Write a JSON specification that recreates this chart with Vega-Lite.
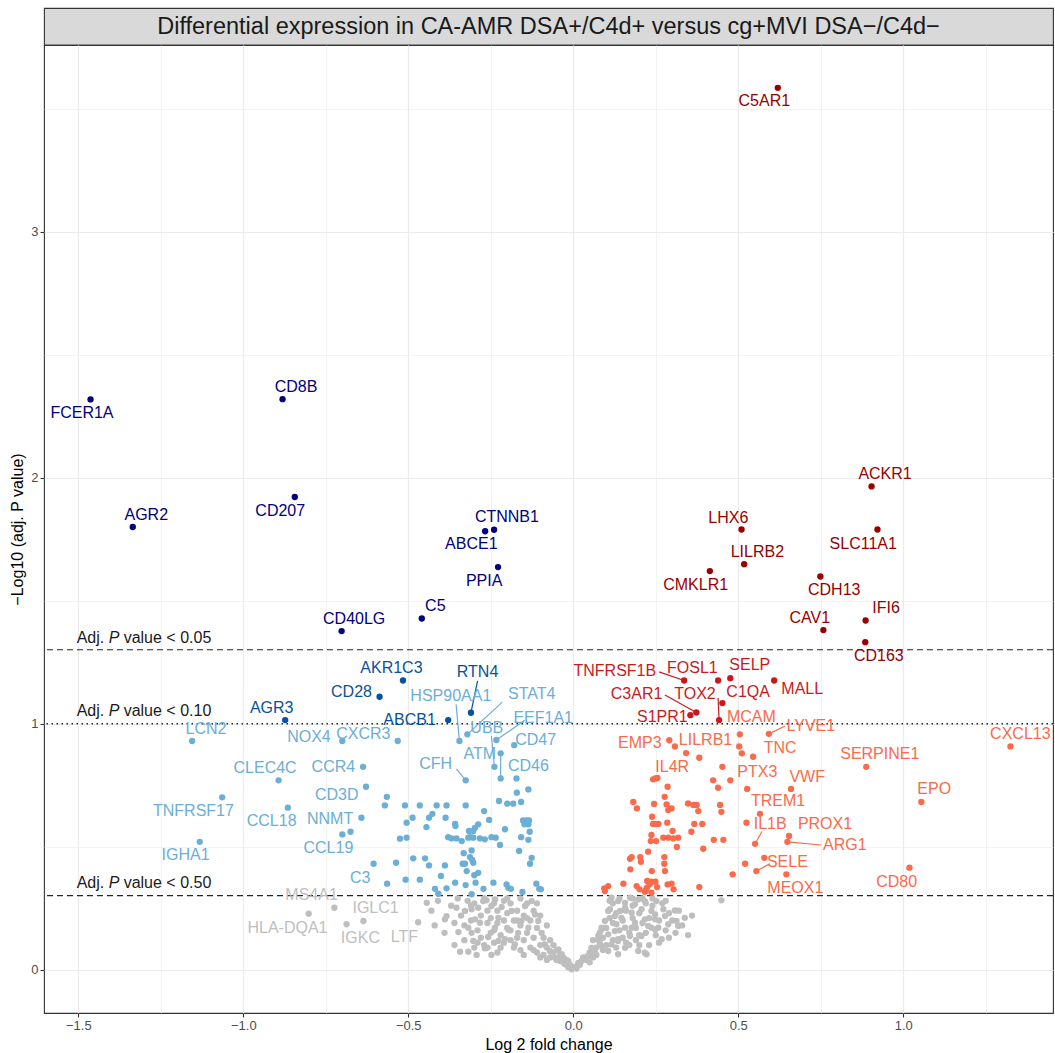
{
"$schema": "https://vega.github.io/schema/vega-lite/v6.json",
"background": "white",
"padding": {"left": 9, "top": 7, "right": 0, "bottom": 0},
"bounds": "flush",
"spacing": 0,
"config": {"font": "Liberation Sans", "view": {"stroke": "#333333", "strokeWidth": 1.1}},
"datasets": {
"genes": [
{"lfc":-0.444,"nlp":0.272,"sig":"ns"},{"lfc":-0.389,"nlp":0.205,"sig":"ns"},{"lfc":-0.384,"nlp":0.218,"sig":"ns"},{"lfc":-0.354,"nlp":0.252,"sig":"ns"},{"lfc":-0.348,"nlp":0.153,"sig":"ns"},{"lfc":-0.343,"nlp":0.073,"sig":"ns"},{"lfc":-0.318,"nlp":0.073,"sig":"ns"},{"lfc":-0.293,"nlp":0.060,"sig":"ns"},{"lfc":-0.328,"nlp":0.239,"sig":"ns"},{"lfc":-0.308,"nlp":0.246,"sig":"ns"},{"lfc":-0.318,"nlp":0.171,"sig":"ns"},{"lfc":-0.308,"nlp":0.150,"sig":"ns"},{"lfc":-0.303,"nlp":0.117,"sig":"ns"},{"lfc":-0.298,"nlp":0.205,"sig":"ns"},{"lfc":-0.283,"nlp":0.191,"sig":"ns"},{"lfc":-0.288,"nlp":0.252,"sig":"ns"},{"lfc":-0.273,"nlp":0.279,"sig":"ns"},{"lfc":-0.263,"nlp":0.282,"sig":"ns"},{"lfc":-0.268,"nlp":0.087,"sig":"ns"},{"lfc":-0.248,"nlp":0.060,"sig":"ns"},{"lfc":-0.258,"nlp":0.133,"sig":"ns"},{"lfc":-0.248,"nlp":0.259,"sig":"ns"},{"lfc":-0.237,"nlp":0.286,"sig":"ns"},{"lfc":-0.227,"nlp":0.211,"sig":"ns"},{"lfc":-0.217,"nlp":0.255,"sig":"ns"},{"lfc":-0.237,"nlp":0.171,"sig":"ns"},{"lfc":-0.227,"nlp":0.117,"sig":"ns"},{"lfc":-0.207,"nlp":0.124,"sig":"ns"},{"lfc":-0.197,"nlp":0.164,"sig":"ns"},{"lfc":-0.187,"nlp":0.239,"sig":"ns"},{"lfc":-0.177,"nlp":0.103,"sig":"ns"},{"lfc":-0.167,"nlp":0.150,"sig":"ns"},{"lfc":-0.157,"nlp":0.198,"sig":"ns"},{"lfc":-0.146,"nlp":0.259,"sig":"ns"},{"lfc":-0.136,"nlp":0.171,"sig":"ns"},{"lfc":-0.126,"nlp":0.279,"sig":"ns"},{"lfc":-0.116,"nlp":0.225,"sig":"ns"},{"lfc":-0.106,"nlp":0.198,"sig":"ns"},{"lfc":-0.096,"nlp":0.150,"sig":"ns"},{"lfc":-0.086,"nlp":0.103,"sig":"ns"},{"lfc":-0.071,"nlp":0.076,"sig":"ns"},{"lfc":-0.055,"nlp":0.049,"sig":"ns"},{"lfc":-0.040,"nlp":0.035,"sig":"ns"},{"lfc":-0.025,"nlp":0.022,"sig":"ns"},{"lfc":-0.005,"nlp":0.002,"sig":"ns"},
{"lfc":-0.43,"nlp":0.24,"sig":"ns"},{"lfc":-0.41,"nlp":0.28,"sig":"ns"},{"lfc":-0.37,"nlp":0.26,"sig":"ns"},{"lfc":-0.36,"nlp":0.19,"sig":"ns"},{"lfc":-0.34,"nlp":0.22,"sig":"ns"},{"lfc":-0.33,"nlp":0.12,"sig":"ns"},{"lfc":-0.32,"nlp":0.28,"sig":"ns"},{"lfc":-0.31,"nlp":0.2,"sig":"ns"},{"lfc":-0.30,"nlp":0.27,"sig":"ns"},{"lfc":-0.29,"nlp":0.16,"sig":"ns"},{"lfc":-0.28,"nlp":0.22,"sig":"ns"},{"lfc":-0.28,"nlp":0.13,"sig":"ns"},{"lfc":-0.27,"nlp":0.1,"sig":"ns"},{"lfc":-0.26,"nlp":0.19,"sig":"ns"},{"lfc":-0.26,"nlp":0.24,"sig":"ns"},{"lfc":-0.25,"nlp":0.15,"sig":"ns"},{"lfc":-0.25,"nlp":0.21,"sig":"ns"},{"lfc":-0.24,"nlp":0.11,"sig":"ns"},{"lfc":-0.24,"nlp":0.27,"sig":"ns"},{"lfc":-0.23,"nlp":0.19,"sig":"ns"},{"lfc":-0.23,"nlp":0.24,"sig":"ns"},{"lfc":-0.22,"nlp":0.14,"sig":"ns"},{"lfc":-0.22,"nlp":0.09,"sig":"ns"},{"lfc":-0.21,"nlp":0.2,"sig":"ns"},{"lfc":-0.21,"nlp":0.28,"sig":"ns"},{"lfc":-0.2,"nlp":0.17,"sig":"ns"},{"lfc":-0.2,"nlp":0.23,"sig":"ns"},{"lfc":-0.19,"nlp":0.12,"sig":"ns"},{"lfc":-0.19,"nlp":0.27,"sig":"ns"},{"lfc":-0.18,"nlp":0.2,"sig":"ns"},{"lfc":-0.18,"nlp":0.09,"sig":"ns"},{"lfc":-0.17,"nlp":0.24,"sig":"ns"},{"lfc":-0.17,"nlp":0.13,"sig":"ns"},{"lfc":-0.16,"nlp":0.18,"sig":"ns"},{"lfc":-0.16,"nlp":0.08,"sig":"ns"},{"lfc":-0.15,"nlp":0.22,"sig":"ns"},{"lfc":-0.15,"nlp":0.12,"sig":"ns"},{"lfc":-0.14,"nlp":0.27,"sig":"ns"},{"lfc":-0.14,"nlp":0.15,"sig":"ns"},{"lfc":-0.13,"nlp":0.09,"sig":"ns"},{"lfc":-0.13,"nlp":0.2,"sig":"ns"},{"lfc":-0.12,"nlp":0.24,"sig":"ns"},{"lfc":-0.12,"nlp":0.13,"sig":"ns"},{"lfc":-0.11,"nlp":0.07,"sig":"ns"},{"lfc":-0.11,"nlp":0.17,"sig":"ns"},{"lfc":-0.1,"nlp":0.1,"sig":"ns"},{"lfc":-0.1,"nlp":0.22,"sig":"ns"},{"lfc":-0.09,"nlp":0.06,"sig":"ns"},{"lfc":-0.09,"nlp":0.13,"sig":"ns"},{"lfc":-0.08,"nlp":0.09,"sig":"ns"},{"lfc":-0.08,"nlp":0.18,"sig":"ns"},{"lfc":-0.07,"nlp":0.05,"sig":"ns"},{"lfc":-0.07,"nlp":0.12,"sig":"ns"},{"lfc":-0.06,"nlp":0.07,"sig":"ns"},{"lfc":-0.06,"nlp":0.1,"sig":"ns"},{"lfc":-0.05,"nlp":0.04,"sig":"ns"},{"lfc":-0.05,"nlp":0.08,"sig":"ns"},{"lfc":-0.04,"nlp":0.06,"sig":"ns"},{"lfc":-0.03,"nlp":0.03,"sig":"ns"},{"lfc":-0.03,"nlp":0.05,"sig":"ns"},{"lfc":-0.02,"nlp":0.04,"sig":"ns"},{"lfc":-0.015,"nlp":0.01,"sig":"ns"},{"lfc":-0.01,"nlp":0.02,"sig":"ns"},{"lfc":-0.35,"nlp":0.29,"sig":"ns"},{"lfc":-0.27,"nlp":0.29,"sig":"ns"},{"lfc":-0.2,"nlp":0.29,"sig":"ns"},{"lfc":-0.16,"nlp":0.29,"sig":"ns"},{"lfc":-0.11,"nlp":0.27,"sig":"ns"},{"lfc":-0.36,"nlp":0.1,"sig":"ns"},{"lfc":-0.39,"nlp":0.15,"sig":"ns"},{"lfc":-0.42,"nlp":0.18,"sig":"ns"},{"lfc":-0.3,"nlp":0.09,"sig":"ns"},{"lfc":-0.23,"nlp":0.07,"sig":"ns"},{"lfc":-0.12,"nlp":0.08,"sig":"ns"},{"lfc":-0.29,"nlp":0.11,"sig":"ns"},{"lfc":-0.24,"nlp":0.16,"sig":"ns"},{"lfc":-0.17,"nlp":0.2,"sig":"ns"},{"lfc":-0.14,"nlp":0.21,"sig":"ns"},{"lfc":-0.19,"nlp":0.16,"sig":"ns"},{"lfc":-0.21,"nlp":0.11,"sig":"ns"},{"lfc":-0.26,"nlp":0.09,"sig":"ns"},{"lfc":-0.33,"nlp":0.18,"sig":"ns"},{"lfc":-0.31,"nlp":0.26,"sig":"ns"},{"lfc":-0.15,"nlp":0.06,"sig":"ns"},{"lfc":-0.08,"nlp":0.04,"sig":"ns"},{"lfc":-0.1,"nlp":0.05,"sig":"ns"},
{"lfc":0.005,"nlp":0.011,"sig":"ns"},{"lfc":0.025,"nlp":0.035,"sig":"ns"},{"lfc":0.045,"nlp":0.056,"sig":"ns"},{"lfc":0.055,"nlp":0.089,"sig":"ns"},{"lfc":0.076,"nlp":0.124,"sig":"ns"},{"lfc":0.086,"nlp":0.171,"sig":"ns"},{"lfc":0.096,"nlp":0.198,"sig":"ns"},{"lfc":0.106,"nlp":0.239,"sig":"ns"},{"lfc":0.116,"nlp":0.293,"sig":"ns"},{"lfc":0.126,"nlp":0.157,"sig":"ns"},{"lfc":0.136,"nlp":0.117,"sig":"ns"},{"lfc":0.146,"nlp":0.211,"sig":"ns"},{"lfc":0.157,"nlp":0.252,"sig":"ns"},{"lfc":0.177,"nlp":0.171,"sig":"ns"},{"lfc":0.197,"nlp":0.076,"sig":"ns"},{"lfc":0.217,"nlp":0.069,"sig":"ns"},{"lfc":0.237,"nlp":0.171,"sig":"ns"},{"lfc":0.248,"nlp":0.225,"sig":"ns"},{"lfc":0.172,"nlp":0.293,"sig":"ns"},{"lfc":0.197,"nlp":0.286,"sig":"ns"},{"lfc":0.252,"nlp":0.279,"sig":"ns"},{"lfc":0.111,"nlp":0.246,"sig":"ns"},{"lfc":0.142,"nlp":0.239,"sig":"ns"},{"lfc":0.177,"nlp":0.232,"sig":"ns"},{"lfc":0.207,"nlp":0.246,"sig":"ns"},{"lfc":0.237,"nlp":0.239,"sig":"ns"},{"lfc":0.273,"nlp":0.246,"sig":"ns"},{"lfc":0.308,"nlp":0.241,"sig":"ns"},{"lfc":0.338,"nlp":0.211,"sig":"ns"},{"lfc":0.313,"nlp":0.198,"sig":"ns"},{"lfc":0.288,"nlp":0.185,"sig":"ns"},{"lfc":0.258,"nlp":0.171,"sig":"ns"},{"lfc":0.227,"nlp":0.178,"sig":"ns"},{"lfc":0.187,"nlp":0.191,"sig":"ns"},{"lfc":0.157,"nlp":0.171,"sig":"ns"},{"lfc":0.131,"nlp":0.185,"sig":"ns"},{"lfc":0.086,"nlp":0.164,"sig":"ns"},{"lfc":0.076,"nlp":0.137,"sig":"ns"},{"lfc":0.106,"nlp":0.144,"sig":"ns"},{"lfc":0.136,"nlp":0.124,"sig":"ns"},{"lfc":0.172,"nlp":0.137,"sig":"ns"},{"lfc":0.207,"nlp":0.137,"sig":"ns"},{"lfc":0.248,"nlp":0.164,"sig":"ns"},{"lfc":0.268,"nlp":0.124,"sig":"ns"},{"lfc":0.318,"nlp":0.178,"sig":"ns"},{"lfc":0.348,"nlp":0.141,"sig":"ns"},{"lfc":0.449,"nlp":0.282,"sig":"ns"},{"lfc":0.086,"nlp":0.096,"sig":"ns"},{"lfc":0.116,"nlp":0.103,"sig":"ns"},{"lfc":0.157,"nlp":0.089,"sig":"ns"},{"lfc":0.222,"nlp":0.063,"sig":"ns"},{"lfc":0.066,"nlp":0.069,"sig":"ns"},{"lfc":0.035,"nlp":0.049,"sig":"ns"},{"lfc":0.015,"nlp":0.028,"sig":"ns"},{"lfc":-0.015,"nlp":0.035,"sig":"ns"},{"lfc":-0.035,"nlp":0.063,"sig":"ns"},{"lfc":-0.045,"nlp":0.083,"sig":"ns"},{"lfc":0.106,"nlp":0.076,"sig":"ns"},{"lfc":0.136,"nlp":0.063,"sig":"ns"},{"lfc":0.126,"nlp":0.218,"sig":"ns"},{"lfc":0.217,"nlp":0.205,"sig":"ns"},{"lfc":0.248,"nlp":0.205,"sig":"ns"},{"lfc":0.278,"nlp":0.218,"sig":"ns"},{"lfc":0.187,"nlp":0.266,"sig":"ns"},{"lfc":0.217,"nlp":0.279,"sig":"ns"},{"lfc":0.157,"nlp":0.272,"sig":"ns"},{"lfc":0.136,"nlp":0.279,"sig":"ns"},
{"lfc":0.02,"nlp":0.02,"sig":"ns"},{"lfc":0.03,"nlp":0.05,"sig":"ns"},{"lfc":0.04,"nlp":0.04,"sig":"ns"},{"lfc":0.05,"nlp":0.07,"sig":"ns"},{"lfc":0.06,"nlp":0.05,"sig":"ns"},{"lfc":0.07,"nlp":0.09,"sig":"ns"},{"lfc":0.08,"nlp":0.11,"sig":"ns"},{"lfc":0.09,"nlp":0.08,"sig":"ns"},{"lfc":0.09,"nlp":0.13,"sig":"ns"},{"lfc":0.1,"nlp":0.17,"sig":"ns"},{"lfc":0.1,"nlp":0.1,"sig":"ns"},{"lfc":0.11,"nlp":0.21,"sig":"ns"},{"lfc":0.12,"nlp":0.12,"sig":"ns"},{"lfc":0.12,"nlp":0.27,"sig":"ns"},{"lfc":0.13,"nlp":0.09,"sig":"ns"},{"lfc":0.13,"nlp":0.23,"sig":"ns"},{"lfc":0.14,"nlp":0.16,"sig":"ns"},{"lfc":0.15,"nlp":0.13,"sig":"ns"},{"lfc":0.15,"nlp":0.2,"sig":"ns"},{"lfc":0.16,"nlp":0.24,"sig":"ns"},{"lfc":0.16,"nlp":0.11,"sig":"ns"},{"lfc":0.17,"nlp":0.15,"sig":"ns"},{"lfc":0.18,"nlp":0.21,"sig":"ns"},{"lfc":0.18,"nlp":0.26,"sig":"ns"},{"lfc":0.19,"nlp":0.12,"sig":"ns"},{"lfc":0.19,"nlp":0.17,"sig":"ns"},{"lfc":0.2,"nlp":0.23,"sig":"ns"},{"lfc":0.2,"nlp":0.1,"sig":"ns"},{"lfc":0.21,"nlp":0.19,"sig":"ns"},{"lfc":0.22,"nlp":0.27,"sig":"ns"},{"lfc":0.22,"nlp":0.15,"sig":"ns"},{"lfc":0.23,"nlp":0.21,"sig":"ns"},{"lfc":0.23,"nlp":0.1,"sig":"ns"},{"lfc":0.24,"nlp":0.26,"sig":"ns"},{"lfc":0.25,"nlp":0.14,"sig":"ns"},{"lfc":0.26,"nlp":0.2,"sig":"ns"},{"lfc":0.27,"nlp":0.27,"sig":"ns"},{"lfc":0.28,"nlp":0.16,"sig":"ns"},{"lfc":0.29,"nlp":0.23,"sig":"ns"},{"lfc":0.3,"nlp":0.2,"sig":"ns"},{"lfc":0.31,"nlp":0.15,"sig":"ns"},{"lfc":0.32,"nlp":0.24,"sig":"ns"},{"lfc":0.33,"nlp":0.18,"sig":"ns"},{"lfc":0.36,"nlp":0.22,"sig":"ns"},{"lfc":0.06,"nlp":0.12,"sig":"ns"},{"lfc":0.08,"nlp":0.15,"sig":"ns"},{"lfc":0.11,"nlp":0.28,"sig":"ns"},{"lfc":0.14,"nlp":0.29,"sig":"ns"},{"lfc":0.18,"nlp":0.29,"sig":"ns"},{"lfc":0.21,"nlp":0.29,"sig":"ns"},{"lfc":0.24,"nlp":0.29,"sig":"ns"},{"lfc":0.28,"nlp":0.28,"sig":"ns"},{"lfc":0.12,"nlp":0.19,"sig":"ns"},{"lfc":0.17,"nlp":0.1,"sig":"ns"},{"lfc":0.2,"nlp":0.14,"sig":"ns"},{"lfc":0.26,"nlp":0.11,"sig":"ns"},{"lfc":0.29,"nlp":0.13,"sig":"ns"},{"lfc":0.05,"nlp":0.03,"sig":"ns"},{"lfc":0.07,"nlp":0.06,"sig":"ns"},{"lfc":0.01,"nlp":0.005,"sig":"ns"},
{"gene":"MS4A1","lfc":-0.724,"nlp":0.252,"sig":"ns","label_x":-0.793,"label_y":0.304},
{"gene":"HLA-DQA1","lfc":-0.802,"nlp":0.228,"sig":"ns","label_x":-0.866,"label_y":0.171},
{"gene":"IGLC1","lfc":-0.636,"nlp":0.198,"sig":"ns","label_x":-0.599,"label_y":0.250},
{"gene":"IGKC","lfc":-0.687,"nlp":0.185,"sig":"ns","label_x":-0.645,"label_y":0.128},
{"gene":"LTF","lfc":-0.470,"nlp":0.193,"sig":"ns","label_x":-0.512,"label_y":0.133},
{"lfc":-0.565,"nlp":0.703,"sig":"down_p050"},{"lfc":-0.571,"nlp":0.668,"sig":"down_p050"},{"lfc":-0.510,"nlp":0.668,"sig":"down_p050"},{"lfc":-0.465,"nlp":0.668,"sig":"down_p050"},{"lfc":-0.414,"nlp":0.668,"sig":"down_p050"},{"lfc":-0.384,"nlp":0.668,"sig":"down_p050"},{"lfc":-0.326,"nlp":0.668,"sig":"down_p050"},{"lfc":-0.171,"nlp":0.720,"sig":"down_p050"},{"lfc":-0.136,"nlp":0.733,"sig":"down_p050"},{"lfc":-0.225,"nlp":0.686,"sig":"down_p050"},{"lfc":-0.200,"nlp":0.675,"sig":"down_p050"},{"lfc":-0.182,"nlp":0.675,"sig":"down_p050"},{"lfc":-0.158,"nlp":0.682,"sig":"down_p050"},{"lfc":-0.270,"nlp":0.645,"sig":"down_p050"},{"lfc":-0.427,"nlp":0.634,"sig":"down_p050"},{"lfc":-0.437,"nlp":0.618,"sig":"down_p050"},{"lfc":-0.387,"nlp":0.618,"sig":"down_p050"},{"lfc":-0.487,"nlp":0.618,"sig":"down_p050"},{"lfc":-0.505,"nlp":0.598,"sig":"down_p050"},{"lfc":-0.445,"nlp":0.580,"sig":"down_p050"},{"lfc":-0.358,"nlp":0.593,"sig":"down_p050"},{"lfc":-0.357,"nlp":0.584,"sig":"down_p050"},{"lfc":-0.255,"nlp":0.609,"sig":"down_p050"},{"lfc":-0.288,"nlp":0.591,"sig":"down_p050"},{"lfc":-0.298,"nlp":0.577,"sig":"down_p050"},{"lfc":-0.303,"nlp":0.564,"sig":"down_p050"},{"lfc":-0.316,"nlp":0.564,"sig":"down_p050"},{"lfc":-0.312,"nlp":0.539,"sig":"down_p050"},{"lfc":-0.207,"nlp":0.571,"sig":"down_p050"},{"lfc":-0.152,"nlp":0.607,"sig":"down_p050"},{"lfc":-0.142,"nlp":0.607,"sig":"down_p050"},{"lfc":-0.134,"nlp":0.607,"sig":"down_p050"},{"lfc":-0.148,"nlp":0.591,"sig":"down_p050"},{"lfc":-0.136,"nlp":0.591,"sig":"down_p050"},{"lfc":-0.132,"nlp":0.561,"sig":"down_p050"},{"lfc":-0.158,"nlp":0.539,"sig":"down_p050"},{"lfc":-0.136,"nlp":0.528,"sig":"down_p050"},{"lfc":-0.525,"nlp":0.533,"sig":"down_p050"},{"lfc":-0.505,"nlp":0.537,"sig":"down_p050"},{"lfc":-0.379,"nlp":0.539,"sig":"down_p050"},{"lfc":-0.369,"nlp":0.534,"sig":"down_p050"},{"lfc":-0.354,"nlp":0.534,"sig":"down_p050"},{"lfc":-0.338,"nlp":0.523,"sig":"down_p050"},{"lfc":-0.318,"nlp":0.537,"sig":"down_p050"},{"lfc":-0.303,"nlp":0.537,"sig":"down_p050"},{"lfc":-0.283,"nlp":0.534,"sig":"down_p050"},{"lfc":-0.268,"nlp":0.530,"sig":"down_p050"},{"lfc":-0.248,"nlp":0.539,"sig":"down_p050"},{"lfc":-0.235,"nlp":0.537,"sig":"down_p050"},{"lfc":-0.222,"nlp":0.507,"sig":"down_p050"},{"lfc":-0.308,"nlp":0.485,"sig":"down_p050"},{"lfc":-0.332,"nlp":0.474,"sig":"down_p050"},{"lfc":-0.164,"nlp":0.483,"sig":"down_p050"},{"lfc":-0.313,"nlp":0.458,"sig":"down_p050"},{"lfc":-0.306,"nlp":0.446,"sig":"down_p050"},{"lfc":-0.303,"nlp":0.435,"sig":"down_p050"},{"lfc":-0.485,"nlp":0.453,"sig":"down_p050"},{"lfc":-0.449,"nlp":0.453,"sig":"down_p050"},{"lfc":-0.437,"nlp":0.424,"sig":"down_p050"},{"lfc":-0.389,"nlp":0.424,"sig":"down_p050"},{"lfc":-0.335,"nlp":0.431,"sig":"down_p050"},{"lfc":-0.328,"nlp":0.431,"sig":"down_p050"},{"lfc":-0.126,"nlp":0.455,"sig":"down_p050"},{"lfc":-0.131,"nlp":0.431,"sig":"down_p050"},{"lfc":-0.537,"nlp":0.435,"sig":"down_p050"},{"lfc":-0.323,"nlp":0.401,"sig":"down_p050"},{"lfc":-0.288,"nlp":0.394,"sig":"down_p050"},{"lfc":-0.300,"nlp":0.384,"sig":"down_p050"},{"lfc":-0.401,"nlp":0.381,"sig":"down_p050"},{"lfc":-0.508,"nlp":0.366,"sig":"down_p050"},{"lfc":-0.465,"nlp":0.366,"sig":"down_p050"},{"lfc":-0.358,"nlp":0.354,"sig":"down_p050"},{"lfc":-0.326,"nlp":0.344,"sig":"down_p050"},{"lfc":-0.296,"nlp":0.354,"sig":"down_p050"},{"lfc":-0.272,"nlp":0.329,"sig":"down_p050"},{"lfc":-0.242,"nlp":0.354,"sig":"down_p050"},{"lfc":-0.419,"nlp":0.329,"sig":"down_p050"},{"lfc":-0.409,"nlp":0.309,"sig":"down_p050"},{"lfc":-0.384,"nlp":0.331,"sig":"down_p050"},{"lfc":-0.202,"nlp":0.347,"sig":"down_p050"},{"lfc":-0.197,"nlp":0.333,"sig":"down_p050"},{"lfc":-0.189,"nlp":0.329,"sig":"down_p050"},{"lfc":-0.154,"nlp":0.316,"sig":"down_p050"},{"lfc":-0.112,"nlp":0.350,"sig":"down_p050"},{"lfc":-0.103,"nlp":0.329,"sig":"down_p050"},{"lfc":-0.098,"nlp":0.327,"sig":"down_p050"},{"lfc":-0.564,"nlp":0.350,"sig":"down_p050"},{"lfc":-0.308,"nlp":0.307,"sig":"down_p050"},{"lfc":-0.675,"nlp":0.561,"sig":"down_p050"},{"lfc":-0.220,"nlp":0.880,"sig":"down_p050"},
{"lfc":0.503,"nlp":0.908,"sig":"up_p050"},{"lfc":0.511,"nlp":0.880,"sig":"up_p050"},{"lfc":0.342,"nlp":0.881,"sig":"up_p050"},{"lfc":0.382,"nlp":0.862,"sig":"up_p050"},{"lfc":0.476,"nlp":0.770,"sig":"up_p050"},{"lfc":0.424,"nlp":0.770,"sig":"up_p050"},{"lfc":0.439,"nlp":0.740,"sig":"up_p050"},{"lfc":0.527,"nlp":0.735,"sig":"up_p050"},{"lfc":0.242,"nlp":0.774,"sig":"up_p050"},{"lfc":0.255,"nlp":0.780,"sig":"up_p050"},{"lfc":0.286,"nlp":0.744,"sig":"up_p050"},{"lfc":0.277,"nlp":0.703,"sig":"up_p050"},{"lfc":0.182,"nlp":0.682,"sig":"up_p050"},{"lfc":0.193,"nlp":0.656,"sig":"up_p050"},{"lfc":0.245,"nlp":0.674,"sig":"up_p050"},{"lfc":0.283,"nlp":0.672,"sig":"up_p050"},{"lfc":0.288,"nlp":0.649,"sig":"up_p050"},{"lfc":0.298,"nlp":0.656,"sig":"up_p050"},{"lfc":0.348,"nlp":0.676,"sig":"up_p050"},{"lfc":0.364,"nlp":0.670,"sig":"up_p050"},{"lfc":0.374,"nlp":0.670,"sig":"up_p050"},{"lfc":0.379,"nlp":0.645,"sig":"up_p050"},{"lfc":0.445,"nlp":0.670,"sig":"up_p050"},{"lfc":0.449,"nlp":0.642,"sig":"up_p050"},{"lfc":0.239,"nlp":0.622,"sig":"up_p050"},{"lfc":0.242,"nlp":0.593,"sig":"up_p050"},{"lfc":0.285,"nlp":0.598,"sig":"up_p050"},{"lfc":0.258,"nlp":0.593,"sig":"up_p050"},{"lfc":0.249,"nlp":0.593,"sig":"up_p050"},{"lfc":0.367,"nlp":0.593,"sig":"up_p050"},{"lfc":0.391,"nlp":0.593,"sig":"up_p050"},{"lfc":0.358,"nlp":0.561,"sig":"up_p050"},{"lfc":0.525,"nlp":0.598,"sig":"up_p050"},{"lfc":0.237,"nlp":0.548,"sig":"up_p050"},{"lfc":0.251,"nlp":0.523,"sig":"up_p050"},{"lfc":0.235,"nlp":0.523,"sig":"up_p050"},{"lfc":0.273,"nlp":0.537,"sig":"up_p050"},{"lfc":0.288,"nlp":0.537,"sig":"up_p050"},{"lfc":0.303,"nlp":0.534,"sig":"up_p050"},{"lfc":0.301,"nlp":0.564,"sig":"up_p050"},{"lfc":0.318,"nlp":0.537,"sig":"up_p050"},{"lfc":0.426,"nlp":0.528,"sig":"up_p050"},{"lfc":0.455,"nlp":0.528,"sig":"up_p050"},{"lfc":0.314,"nlp":0.499,"sig":"up_p050"},{"lfc":0.394,"nlp":0.492,"sig":"up_p050"},{"lfc":0.227,"nlp":0.480,"sig":"up_p050"},{"lfc":0.172,"nlp":0.451,"sig":"up_p050"},{"lfc":0.177,"nlp":0.458,"sig":"up_p050"},{"lfc":0.203,"nlp":0.458,"sig":"up_p050"},{"lfc":0.205,"nlp":0.439,"sig":"up_p050"},{"lfc":0.276,"nlp":0.458,"sig":"up_p050"},{"lfc":0.276,"nlp":0.431,"sig":"up_p050"},{"lfc":0.278,"nlp":0.401,"sig":"up_p050"},{"lfc":0.579,"nlp":0.455,"sig":"up_p050"},{"lfc":0.521,"nlp":0.431,"sig":"up_p050"},{"lfc":0.483,"nlp":0.388,"sig":"up_p050"},{"lfc":0.173,"nlp":0.408,"sig":"up_p050"},{"lfc":0.238,"nlp":0.401,"sig":"up_p050"},{"lfc":0.094,"nlp":0.331,"sig":"up_p050"},{"lfc":0.106,"nlp":0.340,"sig":"up_p050"},{"lfc":0.152,"nlp":0.350,"sig":"up_p050"},{"lfc":0.224,"nlp":0.361,"sig":"up_p050"},{"lfc":0.231,"nlp":0.347,"sig":"up_p050"},{"lfc":0.249,"nlp":0.358,"sig":"up_p050"},{"lfc":0.237,"nlp":0.358,"sig":"up_p050"},{"lfc":0.254,"nlp":0.336,"sig":"up_p050"},{"lfc":0.223,"nlp":0.333,"sig":"up_p050"},{"lfc":0.220,"nlp":0.322,"sig":"up_p050"},{"lfc":0.286,"nlp":0.347,"sig":"up_p050"},{"lfc":0.298,"nlp":0.350,"sig":"up_p050"},{"lfc":0.304,"nlp":0.327,"sig":"up_p050"},{"lfc":0.382,"nlp":0.336,"sig":"up_p050"},{"lfc":0.192,"nlp":0.340,"sig":"up_p050"},{"lfc":0.201,"nlp":0.327,"sig":"up_p050"},{"lfc":0.217,"nlp":0.317,"sig":"up_p050"},{"lfc":0.237,"nlp":0.313,"sig":"up_p050"},{"lfc":0.096,"nlp":0.320,"sig":"up_p050"},
{"gene":"C5AR1","lfc":0.62,"nlp":3.586,"sig":"up_p005","label_x":0.579,"label_y":3.534},
{"gene":"ACKR1","lfc":0.904,"nlp":1.965,"sig":"up_p005","label_x":0.945,"label_y":2.014},
{"gene":"LHX6","lfc":0.510,"nlp":1.790,"sig":"up_p005","label_x":0.470,"label_y":1.837},
{"gene":"SLC11A1","lfc":0.922,"nlp":1.790,"sig":"up_p005","label_x":0.879,"label_y":1.732},
{"gene":"LILRB2","lfc":0.518,"nlp":1.649,"sig":"up_p005","label_x":0.558,"label_y":1.699},
{"gene":"CMKLR1","lfc":0.414,"nlp":1.621,"sig":"up_p005","label_x":0.371,"label_y":1.564},
{"gene":"CDH13","lfc":0.749,"nlp":1.599,"sig":"up_p005","label_x":0.791,"label_y":1.542},
{"gene":"IFI6","lfc":0.886,"nlp":1.420,"sig":"up_p005","label_x":0.948,"label_y":1.469},
{"gene":"CAV1","lfc":0.758,"nlp":1.381,"sig":"up_p005","label_x":0.717,"label_y":1.431},
{"gene":"CD163","lfc":0.885,"nlp":1.332,"sig":"up_p005","label_x":0.926,"label_y":1.275},
{"gene":"TNFRSF1B","lfc":0.336,"nlp":1.176,"sig":"up_p010","label_x":0.126,"label_y":1.214,"seg_x":0.260,"seg_y":1.211},
{"gene":"FOSL1","lfc":0.439,"nlp":1.176,"sig":"up_p010","label_x":0.361,"label_y":1.228},
{"gene":"SELP","lfc":0.476,"nlp":1.185,"sig":"up_p010","label_x":0.535,"label_y":1.239},
{"gene":"MALL","lfc":0.609,"nlp":1.176,"sig":"up_p010","label_x":0.694,"label_y":1.142},
{"gene":"C1QA","lfc":0.452,"nlp":1.084,"sig":"up_p010","label_x":0.530,"label_y":1.129},
{"gene":"C3AR1","lfc":0.373,"nlp":1.046,"sig":"up_p010","label_x":0.192,"label_y":1.120,"seg_x":0.278,"seg_y":1.117},
{"gene":"TOX2","lfc":0.442,"nlp":1.015,"sig":"up_p010","label_x":0.369,"label_y":1.120,"seg_x":0.439,"seg_y":1.105},
{"gene":"S1PR1","lfc":0.355,"nlp":1.035,"sig":"up_p010","label_x":0.270,"label_y":1.027},
{"gene":"MCAM","lfc":0.505,"nlp":0.957,"sig":"up_p050","label_x":0.540,"label_y":1.027},
{"gene":"LYVE1","lfc":0.593,"nlp":0.959,"sig":"up_p050","label_x":0.720,"label_y":0.991,"seg_x":0.642,"seg_y":0.991},
{"gene":"TNC","lfc":0.545,"nlp":0.866,"sig":"up_p050","label_x":0.627,"label_y":0.902},
{"gene":"EMP3","lfc":0.291,"nlp":0.933,"sig":"up_p050","label_x":0.202,"label_y":0.923},
{"gene":"LILRB1","lfc":0.308,"nlp":0.908,"sig":"up_p050","label_x":0.401,"label_y":0.934},
{"gene":"IL4R","lfc":0.249,"nlp":0.778,"sig":"up_p050","label_x":0.300,"label_y":0.824},
{"gene":"PTX3","lfc":0.452,"nlp":0.825,"sig":"up_p050","label_x":0.558,"label_y":0.805},
{"gene":"VWF","lfc":0.660,"nlp":0.735,"sig":"up_p050","label_x":0.709,"label_y":0.783},
{"gene":"TREM1","lfc":0.566,"nlp":0.634,"sig":"up_p050","label_x":0.621,"label_y":0.686},
{"gene":"IL1B","lfc":0.551,"nlp":0.512,"sig":"up_p050","label_x":0.597,"label_y":0.593,"seg_x":0.572,"seg_y":0.562},
{"gene":"PROX1","lfc":0.654,"nlp":0.544,"sig":"up_p050","label_x":0.763,"label_y":0.593},
{"gene":"ARG1","lfc":0.649,"nlp":0.520,"sig":"up_p050","label_x":0.823,"label_y":0.507,"seg_x":0.752,"seg_y":0.507},
{"gene":"SELE","lfc":0.555,"nlp":0.401,"sig":"up_p050","label_x":0.649,"label_y":0.439,"seg_x":0.596,"seg_y":0.431},
{"gene":"MEOX1","lfc":0.646,"nlp":0.388,"sig":"up_p050","label_x":0.673,"label_y":0.331},
{"gene":"SERPINE1","lfc":0.888,"nlp":0.825,"sig":"up_p050","label_x":0.929,"label_y":0.876},
{"gene":"CXCL13","lfc":1.325,"nlp":0.908,"sig":"up_p050","label_x":1.355,"label_y":0.957},
{"gene":"EPO","lfc":1.055,"nlp":0.682,"sig":"up_p050","label_x":1.094,"label_y":0.733},
{"gene":"CD80","lfc":1.019,"nlp":0.415,"sig":"up_p050","label_x":0.980,"label_y":0.358},
{"gene":"FCER1A","lfc":-1.463,"nlp":2.319,"sig":"down_p005","label_x":-1.489,"label_y":2.263},
{"gene":"CD8B","lfc":-0.881,"nlp":2.320,"sig":"down_p005","label_x":-0.840,"label_y":2.369},
{"gene":"AGR2","lfc":-1.335,"nlp":1.800,"sig":"down_p005","label_x":-1.294,"label_y":1.849},
{"gene":"CD207","lfc":-0.844,"nlp":1.922,"sig":"down_p005","label_x":-0.888,"label_y":1.865},
{"gene":"CTNNB1","lfc":-0.240,"nlp":1.789,"sig":"down_p005","label_x":-0.201,"label_y":1.840},
{"gene":"ABCE1","lfc":-0.267,"nlp":1.783,"sig":"down_p005","label_x":-0.309,"label_y":1.730},
{"gene":"PPIA","lfc":-0.228,"nlp":1.637,"sig":"down_p005","label_x":-0.270,"label_y":1.580},
{"gene":"C5","lfc":-0.459,"nlp":1.428,"sig":"down_p005","label_x":-0.418,"label_y":1.478},
{"gene":"CD40LG","lfc":-0.702,"nlp":1.377,"sig":"down_p005","label_x":-0.664,"label_y":1.426},
{"gene":"AKR1C3","lfc":-0.516,"nlp":1.176,"sig":"down_p010","label_x":-0.551,"label_y":1.225},
{"gene":"CD28","lfc":-0.587,"nlp":1.110,"sig":"down_p010","label_x":-0.672,"label_y":1.130},
{"gene":"RTN4","lfc":-0.310,"nlp":1.045,"sig":"down_p010","label_x":-0.290,"label_y":1.211,"seg_x":-0.290,"seg_y":1.174},
{"gene":"ABCB1","lfc":-0.379,"nlp":1.015,"sig":"down_p010","label_x":-0.496,"label_y":1.015},
{"gene":"AGR3","lfc":-0.873,"nlp":1.015,"sig":"down_p010","label_x":-0.914,"label_y":1.065},
{"gene":"HSP90AA1","lfc":-0.345,"nlp":0.930,"sig":"down_p050","label_x":-0.371,"label_y":1.113,"seg_x":-0.355,"seg_y":1.079},
{"gene":"STAT4","lfc":-0.321,"nlp":0.957,"sig":"down_p050","label_x":-0.126,"label_y":1.120,"seg_x":-0.215,"seg_y":1.088},
{"gene":"UBB","lfc":-0.239,"nlp":0.825,"sig":"down_p050","label_x":-0.262,"label_y":0.981,"seg_x":-0.248,"seg_y":0.950},
{"gene":"EEF1A1","lfc":-0.233,"nlp":0.934,"sig":"down_p050","label_x":-0.091,"label_y":1.022,"seg_x":-0.146,"seg_y":1.015},
{"gene":"CD47","lfc":-0.179,"nlp":0.913,"sig":"down_p050","label_x":-0.114,"label_y":0.933},
{"gene":"ATM","lfc":-0.220,"nlp":0.778,"sig":"down_p050","label_x":-0.283,"label_y":0.878,"seg_x":-0.220,"seg_y":0.870},
{"gene":"CD46","lfc":-0.172,"nlp":0.778,"sig":"down_p050","label_x":-0.136,"label_y":0.828},
{"gene":"CFH","lfc":-0.326,"nlp":0.770,"sig":"down_p050","label_x":-0.417,"label_y":0.837,"seg_x":-0.354,"seg_y":0.817},
{"gene":"CXCR3","lfc":-0.532,"nlp":0.930,"sig":"down_p050","label_x":-0.636,"label_y":0.957},
{"gene":"NOX4","lfc":-0.700,"nlp":0.930,"sig":"down_p050","label_x":-0.801,"label_y":0.947},
{"gene":"CCR4","lfc":-0.637,"nlp":0.825,"sig":"down_p050","label_x":-0.727,"label_y":0.824},
{"gene":"CD3D","lfc":-0.628,"nlp":0.744,"sig":"down_p050","label_x":-0.717,"label_y":0.709},
{"gene":"NNMT","lfc":-0.642,"nlp":0.618,"sig":"down_p050","label_x":-0.737,"label_y":0.614},
{"gene":"CCL19","lfc":-0.700,"nlp":0.550,"sig":"down_p050","label_x":-0.742,"label_y":0.496},
{"gene":"C3","lfc":-0.605,"nlp":0.431,"sig":"down_p050","label_x":-0.646,"label_y":0.374},
{"gene":"LCN2","lfc":-1.155,"nlp":0.930,"sig":"down_p050","label_x":-1.113,"label_y":0.977},
{"gene":"CLEC4C","lfc":-0.893,"nlp":0.770,"sig":"down_p050","label_x":-0.934,"label_y":0.821},
{"gene":"TNFRSF17","lfc":-1.064,"nlp":0.701,"sig":"down_p050","label_x":-1.151,"label_y":0.645},
{"gene":"CCL18","lfc":-0.865,"nlp":0.659,"sig":"down_p050","label_x":-0.914,"label_y":0.604},
{"gene":"IGHA1","lfc":-1.132,"nlp":0.520,"sig":"down_p050","label_x":-1.175,"label_y":0.465}
],
"thresholds_dashed": [{"nlp": 1.30103}, {"nlp": 0.30103}],
"thresholds_dotted": [{"nlp": 1.0}],
"notes": [
{"note_x": -1.505, "note_y": 1.350, "rest": "value < 0.05"},
{"note_x": -1.505, "note_y": 1.052, "rest": "value < 0.10"},
{"note_x": -1.505, "note_y": 0.354, "rest": "value < 0.50"}
]
},
"vconcat": [
{
"width": 1009,
"height": 37,
"view": {"fill": "#d9d9d9", "stroke": "#333333", "strokeWidth": 1.1},
"data": {"values": [{"title": "Differential expression in CA-AMR DSA+/C4d+ versus cg+MVI DSA−/C4d−"}]},
"mark": {"type": "text", "fontSize": 23.5, "color": "#1a1a1a", "align": "center", "baseline": "middle", "font": "Liberation Sans"},
"encoding": {"text": {"field": "title", "type": "nominal"}}
},
{
"width": 1009,
"height": 968,
"layer": [
{
"data": {"name": "thresholds_dashed"},
"mark": {"type": "rule", "color": "#262626", "strokeWidth": 1.2, "strokeDash": [6, 4]},
"encoding": {"y": {"field": "nlp", "type": "quantitative", "title": "−Log10 (adj. P value)", "scale": {"domain": [-0.176, 3.76], "nice": false, "zero": false}}}
},
{
"data": {"name": "thresholds_dotted"},
"mark": {"type": "rule", "color": "#262626", "strokeWidth": 1.4, "strokeDash": [1.5, 3.5]},
"encoding": {"y": {"field": "nlp", "type": "quantitative", "title": "−Log10 (adj. P value)", "scale": {"domain": [-0.176, 3.76], "nice": false, "zero": false}}}
},
{
"data": {"name": "genes"},
"mark": {"type": "circle", "size": 40, "opacity": 1},
"encoding": {
"x": {"field": "lfc", "type": "quantitative", "title": "Log 2 fold change",
"scale": {"domain": [-1.604, 1.454], "nice": false, "zero": false},
"axis": {"values": [-1.5, -1.25, -1, -0.75, -0.5, -0.25, 0, 0.25, 0.5, 0.75, 1, 1.25],
"labelExpr": "datum.value % 0.5 == 0 ? format(datum.value, '.1f') : ''",
"gridColor": "#ebebeb",
"gridWidth": {"condition": {"test": "datum.value % 0.5 != 0", "value": 0.6}, "value": 1.2},
"tickOpacity": {"condition": {"test": "datum.value % 0.5 != 0", "value": 0}, "value": 1},
"domain": false, "tickColor": "#333333", "tickSize": 4, "tickWidth": 1.1,
"labelColor": "#4d4d4d", "labelFontSize": 13, "labelPadding": 2, "labelFlush": false, "labelOverlap": false,
"titleFontSize": 16, "titleFontWeight": "normal", "titleColor": "#000000", "titlePadding": 4}},
"y": {"field": "nlp", "type": "quantitative", "title": "−Log10 (adj. P value)",
"scale": {"domain": [-0.176, 3.76], "nice": false, "zero": false},
"axis": {"values": [0, 0.5, 1, 1.5, 2, 2.5, 3, 3.5],
"labelExpr": "datum.value % 1 == 0 ? format(datum.value, 'd') : ''",
"gridColor": "#ebebeb",
"gridWidth": {"condition": {"test": "datum.value % 1 != 0", "value": 0.6}, "value": 1.2},
"tickOpacity": {"condition": {"test": "datum.value % 1 != 0", "value": 0}, "value": 1},
"domain": false, "tickColor": "#333333", "tickSize": 4, "tickWidth": 1.1,
"labelColor": "#4d4d4d", "labelFontSize": 13, "labelPadding": 2, "labelFlush": false, "labelOverlap": false,
"titleFontSize": 16, "titleFontWeight": "normal", "titleColor": "#000000", "titlePadding": 5}},
"color": {"field": "sig", "type": "nominal", "legend": null,
"scale": {"domain": ["up_p005", "up_p010", "up_p050", "ns", "down_p050", "down_p010", "down_p005"],
"range": ["#990000", "#cb181d", "#fb6a4a", "#bebebe", "#6baed6", "#08519c", "#000080"]}}
}
},
{
"data": {"name": "genes"},
"transform": [{"filter": "isValid(datum.seg_x)"}],
"mark": {"type": "rule", "strokeWidth": 1.2},
"encoding": {
"x": {"field": "lfc", "type": "quantitative", "title": "Log 2 fold change", "scale": {"domain": [-1.604, 1.454], "nice": false, "zero": false}},
"y": {"field": "nlp", "type": "quantitative", "title": "−Log10 (adj. P value)", "scale": {"domain": [-0.176, 3.76], "nice": false, "zero": false}},
"x2": {"field": "seg_x"},
"y2": {"field": "seg_y"},
"color": {"field": "sig", "type": "nominal", "legend": null}
}
},
{
"data": {"name": "genes"},
"transform": [{"filter": "isValid(datum.gene)"}],
"mark": {"type": "text", "fontSize": 16, "align": "center", "baseline": "middle", "font": "Liberation Sans"},
"encoding": {
"x": {"field": "label_x", "type": "quantitative", "title": "Log 2 fold change", "scale": {"domain": [-1.604, 1.454], "nice": false, "zero": false}},
"y": {"field": "label_y", "type": "quantitative", "title": "−Log10 (adj. P value)", "scale": {"domain": [-0.176, 3.76], "nice": false, "zero": false}},
"text": {"field": "gene", "type": "nominal"},
"color": {"field": "sig", "type": "nominal", "legend": null}
}
},
{
"data": {"name": "notes"},
"mark": {"type": "text", "fontSize": 16, "align": "left", "baseline": "middle", "color": "#1a1a1a", "font": "Liberation Sans"},
"encoding": {
"x": {"field": "note_x", "type": "quantitative", "title": "Log 2 fold change", "scale": {"domain": [-1.604, 1.454], "nice": false, "zero": false}},
"y": {"field": "note_y", "type": "quantitative", "title": "−Log10 (adj. P value)", "scale": {"domain": [-0.176, 3.76], "nice": false, "zero": false}},
"text": {"value": "Adj."}
}
},
{
"data": {"name": "notes"},
"mark": {"type": "text", "fontSize": 16, "align": "left", "baseline": "middle", "color": "#1a1a1a", "fontStyle": "italic", "dx": 32, "font": "Liberation Sans"},
"encoding": {
"x": {"field": "note_x", "type": "quantitative", "title": "Log 2 fold change", "scale": {"domain": [-1.604, 1.454], "nice": false, "zero": false}},
"y": {"field": "note_y", "type": "quantitative", "title": "−Log10 (adj. P value)", "scale": {"domain": [-0.176, 3.76], "nice": false, "zero": false}},
"text": {"value": "P"}
}
},
{
"data": {"name": "notes"},
"mark": {"type": "text", "fontSize": 16, "align": "left", "baseline": "middle", "color": "#1a1a1a", "dx": 47, "font": "Liberation Sans"},
"encoding": {
"x": {"field": "note_x", "type": "quantitative", "title": "Log 2 fold change", "scale": {"domain": [-1.604, 1.454], "nice": false, "zero": false}},
"y": {"field": "note_y", "type": "quantitative", "title": "−Log10 (adj. P value)", "scale": {"domain": [-0.176, 3.76], "nice": false, "zero": false}},
"text": {"field": "rest", "type": "nominal"}
}
}
]
}
]
}
